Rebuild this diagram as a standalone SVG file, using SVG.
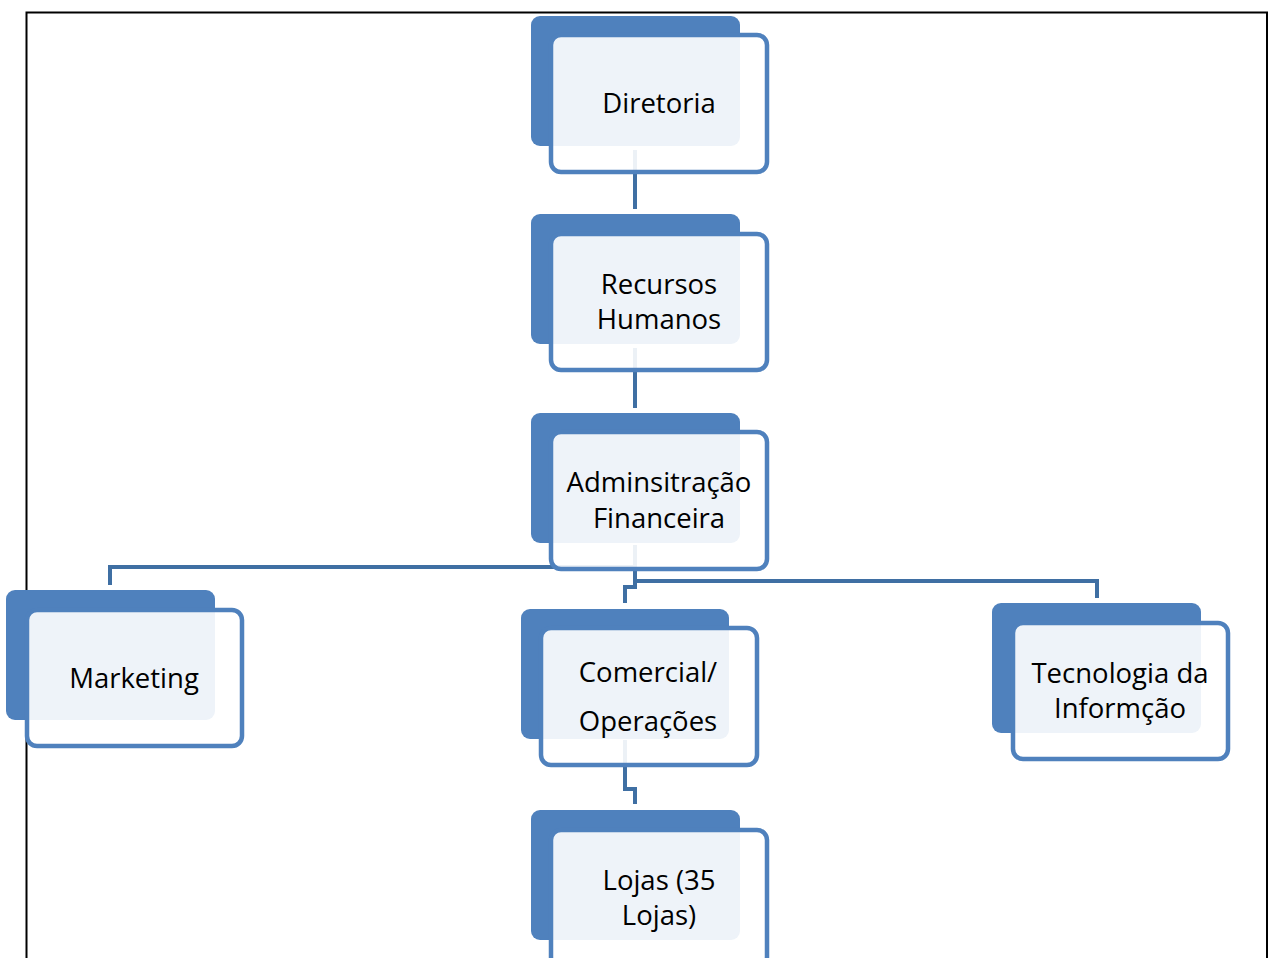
<svg xmlns="http://www.w3.org/2000/svg" width="1273" height="958" viewBox="0 0 1273 958">
<style>
.back{fill:#4F81BD}
.front{fill:#FFFFFF;fill-opacity:0.9;stroke:#4F81BD;stroke-width:4.5}
.conn{fill:none;stroke:#3F6FA3;stroke-width:4}
.t{font-family:"Open Sans","Noto Sans",sans-serif;font-size:27.5px;fill:#000;text-anchor:middle}
</style>
<rect x="0" y="0" width="1273" height="958" fill="#FFFFFF"/>
<path d="M26.5,958 V12.5 H1267 V958" fill="none" stroke="#000" stroke-width="2"/>
<g id="connectors">
<path class="conn" d="M635,150 V209"/>
<path class="conn" d="M635,348 V408"/>
<path class="conn" d="M635,545 V567 H110 V585"/>
<path class="conn" d="M635,545 V587 H625 V603"/>
<path class="conn" d="M635,545 V581 H1097 V598"/>
<path class="conn" d="M625,740 V789 H635 V804"/>
</g>
<g id="diretoria">
<rect class="back" x="531" y="16" width="209" height="130" rx="9"/>
<rect class="front" x="551" y="35" width="216" height="137" rx="10"/>
<text class="t" x="659" y="113">Diretoria</text>
</g>
<g id="recursos-humanos">
<rect class="back" x="531" y="214" width="209" height="130" rx="9"/>
<rect class="front" x="551" y="234" width="216" height="136" rx="10"/>
<text class="t" x="659" y="294">Recursos</text>
<text class="t" x="659" y="329">Humanos</text>
</g>
<g id="adm-financeira">
<rect class="back" x="531" y="413" width="209" height="130" rx="9"/>
<rect class="front" x="551" y="432" width="216" height="137" rx="10"/>
<text class="t" x="659" y="492">Adminsitração</text>
<text class="t" x="659" y="528">Financeira</text>
</g>
<g id="marketing">
<rect class="back" x="6" y="590" width="209" height="130" rx="9"/>
<rect class="front" x="27" y="610" width="215" height="136" rx="10"/>
<text class="t" x="134" y="688">Marketing</text>
</g>
<g id="comercial">
<rect class="back" x="521" y="609" width="208" height="130" rx="9"/>
<rect class="front" x="541" y="628" width="216" height="137" rx="10"/>
<text class="t" x="648" y="682">Comercial/</text>
<text class="t" x="648" y="731">Operações</text>
</g>
<g id="ti">
<rect class="back" x="992" y="603" width="209" height="130" rx="9"/>
<rect class="front" x="1013" y="623" width="215" height="136" rx="10"/>
<text class="t" x="1120" y="683">Tecnologia da</text>
<text class="t" x="1120" y="718">Informção</text>
</g>
<g id="lojas">
<rect class="back" x="531" y="810" width="209" height="130" rx="9"/>
<rect class="front" x="551" y="830" width="216" height="137" rx="10"/>
<text class="t" x="659" y="890">Lojas (35</text>
<text class="t" x="659" y="925">Lojas)</text>
</g>
</svg>
